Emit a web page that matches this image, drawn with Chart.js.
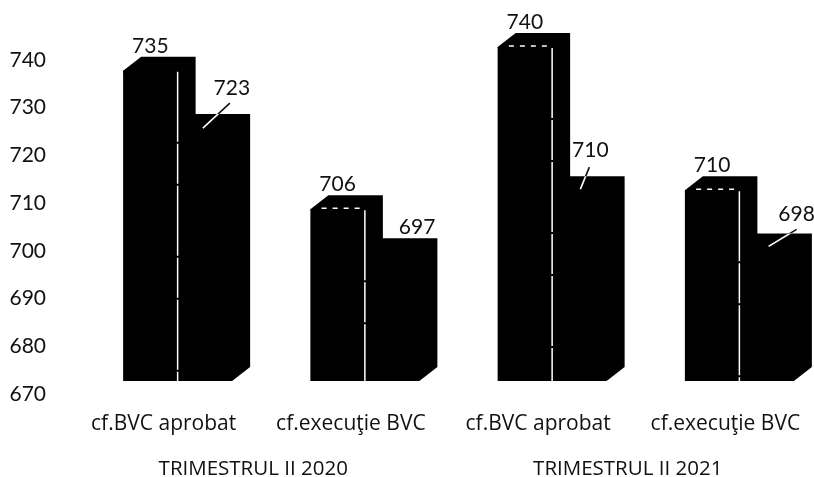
<!DOCTYPE html>
<html>
<head>
<meta charset="utf-8">
<title>BVC</title>
<script src="https://cdn.jsdelivr.net/npm/chart.js@4/dist/chart.umd.min.js"></script>
<style>
  html, body { margin: 0; padding: 0; background: #fff; overflow: hidden; }
  /* last category band runs past the window, as in the reference */
  #wrap { width: 814px; height: 477px; overflow: hidden; }
  canvas { display: block; }
</style>
</head>
<body>
<div id="wrap"><canvas id="chart" width="833" height="477"></canvas></div>
<script>
const categories = ["cf.BVC aprobat", "cf.execuţie BVC", "cf.BVC aprobat", "cf.execuţie BVC"];
const periods = ["TRIMESTRUL II 2020", "TRIMESTRUL II 2021"];
const firstValues = [735, 706, 740, 710];
const secondValues = [723, 697, 710, 698];

const numberFont = "Lato, 'Open Sans', sans-serif";
const textFont = "'Open Sans', Lato, sans-serif";
const depthX = 18;
const depthY = 14;

// where the numbers of the second bars sit, from the bar's back top edge
const secondLabelShift = [[27, -26], [25, -11], [11, -26], [30, -19]];
// leader lines of the second bars, from the bar's front top edge
const secondLeaders = [[-2, 0, 25, -25], null, [1, -1, 10, -23], [2, -1, 30, -18]];

// tick padding also eats into the chart area, this keeps the area fixed
function noAutoPadding(scale) {
  scale.paddingTop = 0;
  scale.paddingBottom = 0;
  scale.paddingLeft = 0;
  scale.paddingRight = 0;
}

// bars are flat for Chart.js, this adds the top and side faces + the numbers
const faces3d = {
  id: "faces3d",
  afterDatasetsDraw(chart) {
    const ctx = chart.ctx;
    ctx.save();

    chart.data.datasets.forEach((ds, d) => {
      chart.getDatasetMeta(d).data.forEach((bar) => {
        const left = bar.x - bar.width / 2;
        const right = bar.x + bar.width / 2;
        ctx.fillStyle = "#000";
        ctx.beginPath();
        ctx.moveTo(left, bar.y);
        ctx.lineTo(left + depthX, bar.y - depthY);
        ctx.lineTo(right + depthX, bar.y - depthY);
        ctx.lineTo(right + depthX, bar.base - depthY);
        ctx.lineTo(right, bar.base);
        ctx.closePath();
        ctx.fill();
      });
    });

    // white edge between the two bars, dashes on the front top edge
    chart.getDatasetMeta(0).data.forEach((bar, i) => {
      const right = bar.x + bar.width / 2;
      ctx.strokeStyle = "#fff";
      ctx.lineWidth = 1.5;
      ctx.setLineDash([70, 2, 40, 2]);
      ctx.beginPath();
      ctx.moveTo(right, bar.y + 1);
      ctx.lineTo(right, bar.base);
      ctx.stroke();
      if (i > 0) {
        ctx.setLineDash([5, 6]);
        ctx.beginPath();
        ctx.moveTo(bar.x - 16, bar.y - 1);
        ctx.lineTo(right, bar.y - 1);
        ctx.stroke();
      }
      ctx.setLineDash([]);
    });

    // leader lines: black on the paper, white over the bar
    chart.getDatasetMeta(1).data.forEach((bar, i) => {
      const leader = secondLeaders[i];
      if (!leader) return;
      const draw = (colour) => {
        ctx.strokeStyle = colour;
        ctx.lineWidth = 1.6;
        ctx.beginPath();
        ctx.moveTo(bar.x + leader[0], bar.y + leader[1]);
        ctx.lineTo(bar.x + leader[2], bar.y + leader[3]);
        ctx.stroke();
      };
      draw("#111");
      ctx.save();
      ctx.beginPath();
      ctx.rect(bar.x - bar.width, bar.y - depthY, bar.width * 2, 40);
      ctx.clip();
      draw("#fff");
      ctx.restore();
    });

    // value labels
    ctx.font = "21px " + numberFont;
    ctx.fillStyle = "#111";
    ctx.textAlign = "center";
    ctx.textBaseline = "middle";
    chart.getDatasetMeta(0).data.forEach((bar, i) => {
      ctx.fillText(firstValues[i], bar.x, bar.y - depthY - 11);
    });
    chart.getDatasetMeta(1).data.forEach((bar, i) => {
      const shift = secondLabelShift[i];
      ctx.fillText(secondValues[i], bar.x + shift[0], bar.y - depthY + shift[1]);
    });

    ctx.restore();
  }
};

new Chart(document.getElementById("chart"), {
  type: "bar",
  data: {
    labels: categories,
    datasets: [
      { label: "A", data: firstValues, backgroundColor: "#000", base: 670 },
      { label: "B", data: secondValues, backgroundColor: "#000", base: 670 }
    ]
  },
  options: {
    responsive: false,
    animation: false,
    layout: { padding: { top: 47, right: 0, left: 0, bottom: 0 } },
    categoryPercentage: 0.582,
    barPercentage: 1,
    plugins: {
      legend: { display: false },
      title: { display: false },
      tooltip: { enabled: false }
    },
    scales: {
      y: {
        min: 670,
        max: 740,
        grid: { display: false, drawTicks: false },
        border: { display: false },
        ticks: {
          stepSize: 10,
          padding: 38,
          labelOffset: 13,
          color: "#111",
          font: { family: numberFont, size: 21 }
        },
        afterFit(scale) { scale.width = 84; noAutoPadding(scale); }
      },
      x: {
        grid: { display: false, drawTicks: false },
        border: { display: false },
        ticks: {
          padding: 30,
          labelOffset: -14,
          maxRotation: 0,
          autoSkip: false,
          color: "#111",
          font: { family: textFont, size: 21 }
        },
        afterFit(scale) { scale.height = 54; noAutoPadding(scale); }
      },
      periodAxis: {
        type: "category",
        position: "bottom",
        labels: periods,
        grid: { display: false, drawTicks: false },
        border: { display: false },
        ticks: {
          padding: 22,
          labelOffset: -18,
          maxRotation: 0,
          autoSkip: false,
          color: "#111",
          font: { family: textFont, size: 20.5 }
        },
        afterFit(scale) { scale.height = 42; noAutoPadding(scale); }
      }
    }
  },
  plugins: [faces3d]
});
</script>
</body>
</html>
